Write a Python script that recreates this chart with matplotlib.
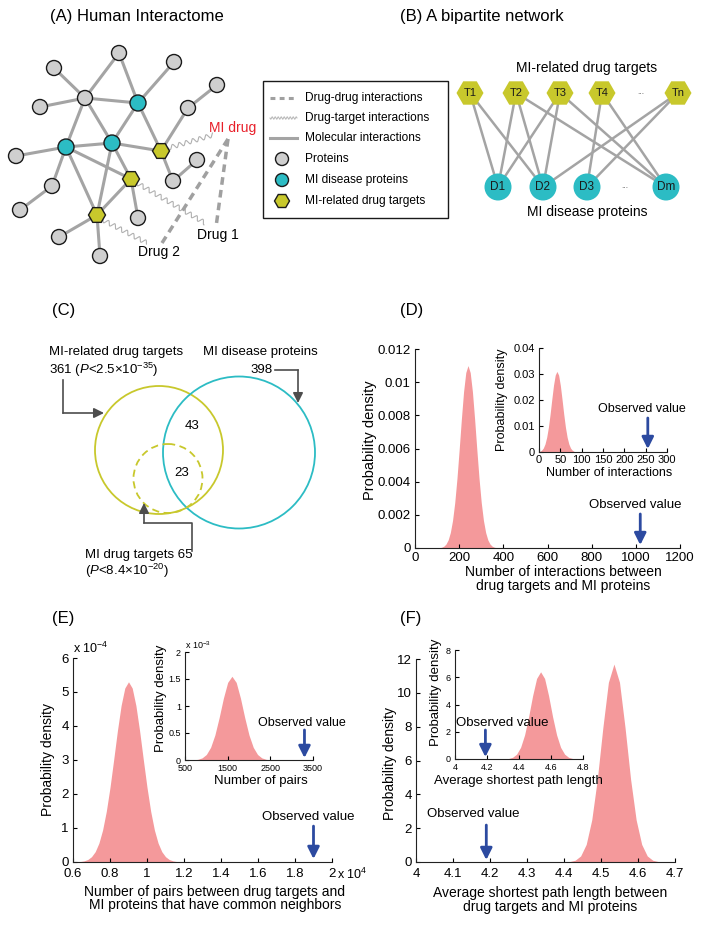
#!/usr/bin/env python3

import numpy as np
import matplotlib
matplotlib.use("Agg")
import matplotlib.pyplot as plt
from matplotlib.patches import Circle, RegularPolygon, Rectangle

plt.rcParams["font.family"] = ["Liberation Sans", "DejaVu Sans"]
plt.rcParams["mathtext.fontset"] = "custom"
plt.rcParams["mathtext.rm"] = "Liberation Sans"
plt.rcParams["mathtext.it"] = "Liberation Sans:italic"
plt.rcParams["mathtext.bf"] = "Liberation Sans:bold"

# ---------------- data ----------------
# (C) overlap counts
n_related_targets = 361
n_disease_proteins = 398
n_mi_drug_targets = 65
n_overlap_related = 43
n_overlap_mi_drug = 23
p_related = r"2.5×10$^{-35}$"
p_mi_drug = r"8.4×10$^{-20}$"

# (B) bipartite network
targets_b = ["T1", "T2", "T3", "T4", "...", "Tn"]
diseases_b = ["D1", "D2", "D3", "...", "Dm"]
edges_b = [("T1", "D1"), ("T1", "D2"), ("T2", "D1"), ("T2", "D2"), ("T2", "Dm"),
           ("T3", "D1"), ("T3", "D2"), ("T3", "Dm"), ("T4", "D3"), ("T4", "Dm"),
           ("Tn", "D2"), ("Tn", "D3")]

# (D) null distribution of interactions
inter_x = [100, 110, 120, 130, 140, 150, 160, 170, 180, 190, 200, 210, 220, 230, 240,
           250, 260, 270, 280, 290, 300, 310, 320, 330, 340, 350, 360, 370, 380]
inter_y = [0.000006, 0.000016, 0.000043, 0.000103, 0.000232, 0.000483, 0.000931,
           0.00166, 0.00274, 0.00419, 0.00593, 0.00777, 0.00943, 0.01058, 0.011,
           0.01058, 0.00943, 0.00777, 0.00593, 0.00419, 0.00274, 0.00166, 0.000931,
           0.000483, 0.000232, 0.000103, 0.000043, 0.000016, 0.000006]
inter_obs = 1020
inter_in_x = [2, 6, 10, 14, 18, 22, 26, 30, 34, 38, 42, 46, 50, 54, 58, 62, 66, 70,
              74, 78, 82]
inter_in_y = [0.00027, 0.00067, 0.0015, 0.00305, 0.00564, 0.00949, 0.01454, 0.02025,
              0.02565, 0.02957, 0.031, 0.02957, 0.02565, 0.02025, 0.01454, 0.00949,
              0.00564, 0.00305, 0.0015, 0.00067, 0.00027]
inter_in_obs = 255

# (E) null distribution of pairs (x in 1e4, y in 1e-4; inset y in 1e-3)
pairs_x = [0.62, 0.64, 0.66, 0.68, 0.70, 0.72, 0.74, 0.76, 0.78, 0.80, 0.82, 0.84,
           0.86, 0.88, 0.90, 0.92, 0.94, 0.96, 0.98, 1.00, 1.02, 1.04, 1.06, 1.08,
           1.10, 1.12, 1.14, 1.16, 1.18]
pairs_y = [0.005, 0.014, 0.033, 0.074, 0.156, 0.304, 0.555, 0.941, 1.489, 2.195,
           3.014, 3.858, 4.602, 5.116, 5.3, 5.116, 4.602, 3.858, 3.014, 2.195, 1.489,
           0.941, 0.555, 0.304, 0.156, 0.074, 0.033, 0.014, 0.005]
pairs_obs = 1.9
pairs_in_x = [700, 800, 900, 1000, 1100, 1200, 1300, 1400, 1500, 1600, 1700, 1800,
              1900, 2000, 2100, 2200, 2300, 2400, 2500]
pairs_in_y = [0.0034, 0.0122, 0.039, 0.102, 0.234, 0.462, 0.784, 1.145, 1.437, 1.55,
              1.437, 1.145, 0.784, 0.462, 0.234, 0.102, 0.039, 0.0122, 0.0034]
pairs_in_obs = 3300

# (F) null distribution of average shortest path length
path_x = [4.415, 4.43, 4.445, 4.46, 4.475, 4.49, 4.505, 4.52, 4.535, 4.55, 4.565,
          4.58, 4.595, 4.61, 4.625, 4.64, 4.655]
path_y = [0.024, 0.102, 0.358, 1.04, 2.49, 4.89, 7.94, 10.62, 11.7, 10.62, 7.94,
          4.89, 2.49, 1.04, 0.358, 0.102, 0.024]
path_obs = 4.19
path_in_x = [4.335, 4.36, 4.385, 4.41, 4.435, 4.46, 4.485, 4.51, 4.535, 4.56, 4.585,
             4.61, 4.635, 4.66, 4.685, 4.71, 4.735]
path_in_y = [0.037, 0.125, 0.355, 0.858, 1.77, 3.10, 4.64, 5.91, 6.4, 5.91, 4.64,
             3.10, 1.77, 0.858, 0.355, 0.125, 0.037]
path_in_obs = 4.19

# ---------------- style ----------------
W, H = 704, 925
GRAY_NODE = "#cfcfcf"
CYAN = "#2cbcc4"
YELLOW = "#c8c82c"
EDGE = "#a4a4a4"
PINK = "#f4999b"
BLUE = "#2c4aa0"
DARK = "#4d4d4d"

# panel A layout (pixel coords)
pos_a = {
    "a": (119, 53), "b": (54, 68), "c": (174, 62), "d": (217, 85), "e": (40, 107),
    "f": (188, 108), "hub": (85, 98), "g": (16, 156), "h": (52, 186), "i": (20, 210),
    "j": (197, 160), "k": (173, 181), "l": (138, 218), "m": (59, 237), "n": (100, 256),
    "m1": (138, 103), "m2": (112, 143), "m3": (66, 147),
    "t1": (161, 151), "t2": (131, 179), "t3": (97, 215),
}
proteins_a = ["a", "b", "c", "d", "e", "f", "hub", "g", "h", "i", "j", "k", "l", "m", "n"]
disease_a = ["m1", "m2", "m3"]
targets_a = ["t1", "t2", "t3"]
edges_a = [("a", "hub"), ("a", "m1"), ("b", "hub"), ("e", "hub"), ("hub", "m1"),
           ("hub", "m3"), ("hub", "m2"), ("c", "m1"), ("m1", "m2"), ("m1", "t1"),
           ("f", "t1"), ("d", "f"), ("m2", "t1"), ("m3", "m2"), ("m3", "g"),
           ("m3", "h"), ("h", "i"), ("m3", "t2"), ("m3", "t3"), ("m2", "t3"),
           ("m2", "t2"), ("t2", "l"), ("t2", "t3"), ("t1", "k"), ("k", "j"),
           ("t3", "m"), ("t3", "n")]


def wavy(ax, p0, p1, amp=2.2, wl=7.0, **kw):
    p0, p1 = np.asarray(p0, float), np.asarray(p1, float)
    d = p1 - p0
    L = np.hypot(*d)
    u = d / L
    nrm = np.array([-u[1], u[0]])
    s = np.linspace(0, L, int(L * 4))
    pts = p0 + np.outer(s, u) + np.outer(amp * np.sin(2 * np.pi * s / wl), nrm)
    ax.plot(pts[:, 0], pts[:, 1], **kw)


def circ(ax, xy, r, fc):
    ax.add_patch(Circle(xy, r, fc=fc, ec="#1a1a1a", lw=1.0, zorder=3))


def hexa(ax, xy, r, ec="none"):
    ax.add_patch(RegularPolygon(xy, 6, radius=r, orientation=np.pi / 6,
                                fc=YELLOW, ec=ec, lw=1.0, zorder=3))


def px_axes(left, top, right, bottom):
    return fig.add_axes([left / W, 1 - bottom / H, (right - left) / W, (bottom - top) / H])


def lab(x, y, s, **kw):
    # figure-level text in pixel coords, drawn above all axes
    kw.setdefault("ha", "center")
    kw.setdefault("va", "center")
    return fig.text(x, y, s, transform=ov.transData, **kw)


def style(ax, fs, xpad=2):
    for s in ["top", "right"]:
        ax.spines[s].set_visible(False)
    for s in ["left", "bottom"]:
        ax.spines[s].set_linewidth(0.8)
        ax.spines[s].set_color("#222222")
    ax.tick_params(direction="in", length=3, width=0.8, labelsize=fs)
    ax.tick_params(axis="x", pad=xpad)
    ax.tick_params(axis="y", pad=3)
    ax.set_facecolor("none")


def obs_arrow(ax, x, y_tip, y_tail, txt_xy, fs):
    tr = ax.get_xaxis_transform()
    ax.annotate("", xy=(x, y_tip), xytext=(x, y_tail), xycoords=tr, textcoords=tr,
                arrowprops=dict(arrowstyle="-|>,head_length=0.5,head_width=0.25",
                                color=BLUE, lw=2, shrinkA=0, shrinkB=0,
                                mutation_scale=14))
    ax.text(*txt_xy, "Observed value", transform=ax.transAxes, ha="center",
            va="center", fontsize=fs)


fig = plt.figure(figsize=(W / 100, H / 100), dpi=100)
ov = fig.add_axes([0, 0, 1, 1])
ov.set_xlim(0, W)
ov.set_ylim(H, 0)
ov.axis("off")

# panel labels
ov.text(50, 17, "(A) Human Interactome", fontsize=12, va="center")
ov.text(400, 17, "(B) A bipartite network", fontsize=12, va="center")
for t, x, y in [("(C)", 52, 310), ("(D)", 400, 310), ("(E)", 52, 619), ("(F)", 400, 619)]:
    ov.text(x, y, t, fontsize=12, va="center")

# ---------------- (A) ----------------
for u, v in edges_a:
    (x0, y0), (x1, y1) = pos_a[u], pos_a[v]
    ov.plot([x0, x1], [y0, y1], color=EDGE, lw=2.2, zorder=1, solid_capstyle="round")
for k in proteins_a:
    circ(ov, pos_a[k], 7.5, GRAY_NODE)
for k in disease_a:
    circ(ov, pos_a[k], 8, CYAN)
for k in targets_a:
    hexa(ov, pos_a[k], 8.5, ec="#1a1a1a")

wave_kw = dict(color="#b0b0b0", lw=0.8, zorder=1)
wavy(ov, (168, 148), (213, 135), **wave_kw)
wavy(ov, (137, 183), (205, 223), **wave_kw)
wavy(ov, (103, 220), (147, 243), **wave_kw)
dash_kw = dict(color="#a0a0a0", lw=2.5, dashes=(2.2, 1.5), zorder=1)
ov.plot([228, 216], [139, 227], **dash_kw)
ov.plot([228, 162], [139, 243], **dash_kw)
ov.text(209, 128, "MI drug", color="#e8202a", fontsize=10, va="center")
ov.text(197, 235, "Drug 1", fontsize=10, va="center")
ov.text(138, 252, "Drug 2", fontsize=10, va="center")

# legend box
ov.add_patch(Rectangle((263, 81), 185, 137, fc="white", ec="#1a1a1a", lw=1.0, zorder=2))
rows = [98, 118, 138, 159, 180, 201]
leg_labels = ["Drug-drug interactions", "Drug-target interactions", "Molecular interactions",
              "Proteins", "MI disease proteins", "MI-related drug targets"]
ov.plot([270, 297], [rows[0], rows[0]], color="#a0a0a0", lw=2.2, dashes=(1.6, 1.4), zorder=3)
wavy(ov, (270, rows[1]), (297, rows[1]), amp=1.2, wl=3.0, color="#b8b8b8", lw=0.7, zorder=3)
ov.plot([270, 297], [rows[2], rows[2]], color=EDGE, lw=2.2, zorder=3)
circ(ov, (282, rows[3]), 6.5, GRAY_NODE)
circ(ov, (282, rows[4]), 6.5, CYAN)
hexa(ov, (282, rows[5]), 7.5, ec="#1a1a1a")
for y, t in zip(rows, leg_labels):
    ov.text(305, y, t, fontsize=8.6, va="center", zorder=4)

# ---------------- (B) ----------------
tx = dict(zip(targets_b, [470, 516, 560, 602, 641, 678]))
dx = dict(zip(diseases_b, [498, 543, 587, 625, 666]))
ty, dy = 93, 187
for t, d in edges_b:
    ov.plot([tx[t], dx[d]], [ty, dy], color=EDGE, lw=1.8, zorder=1)
for t in targets_b:
    if t == "...":
        ov.text(tx[t], ty, "...", fontsize=6, ha="center", va="center", color="#555555")
        continue
    hexa(ov, (tx[t], ty), 13.5)
    ov.text(tx[t], ty, t, fontsize=8, ha="center", va="center", zorder=4, color="#1a1a1a")
for d in diseases_b:
    if d == "...":
        ov.text(dx[d], dy, "...", fontsize=6, ha="center", va="center", color="#555555")
        continue
    ov.add_patch(Circle((dx[d], dy), 13.5, fc=CYAN, ec="none", zorder=3))
    ov.text(dx[d], dy, d, fontsize=8.5, ha="center", va="center", zorder=4, color="#1a1a1a")
ov.text(587, 68, "MI-related drug targets", fontsize=10, ha="center", va="center")
ov.text(587, 212, "MI disease proteins", fontsize=10, ha="center", va="center")

# ---------------- (C) ----------------
ov.add_patch(Circle((159, 450), 64, fill=False, ec=YELLOW, lw=1.3))
ov.add_patch(Circle((239, 452.5), 76, fill=False, ec=CYAN, lw=1.3))
ov.add_patch(Circle((168, 478.5), 34.5, fill=False, ec=YELLOW, lw=1.3, ls=(0, (4, 2.5))))
ov.text(192, 426, str(n_overlap_related), fontsize=9.5, ha="center", va="center")
ov.text(182, 473, str(n_overlap_mi_drug), fontsize=9.5, ha="center", va="center")
ov.text(49, 352, "MI-related drug targets", fontsize=9.5, va="center")
ov.text(49, 370, f"{n_related_targets} ($\\mathit{{P}}$<{p_related})", fontsize=9.5, va="center")
ov.text(203, 352, "MI disease proteins", fontsize=9.5, va="center")
ov.text(273, 370, str(n_disease_proteins), fontsize=9.5, va="center", ha="right")
ov.text(85, 555, f"MI drug targets {n_mi_drug_targets}", fontsize=9.5, va="center")
ov.text(85, 571, f"($\\mathit{{P}}$<{p_mi_drug})", fontsize=9.5, va="center")
akw = dict(arrowstyle="-|>,head_length=0.5,head_width=0.25", color=DARK, lw=1.2,
           shrinkA=0, shrinkB=0, mutation_scale=12)
ov.plot([63, 63], [380, 413], color=DARK, lw=1.2)
ov.annotate("", xy=(104, 413), xytext=(63, 413), arrowprops=akw)
ov.plot([275, 298], [370, 370], color=DARK, lw=1.2)
ov.annotate("", xy=(298, 403), xytext=(298, 370), arrowprops=akw)
ov.plot([192, 192, 144], [551, 523, 523], color=DARK, lw=1.2)
ov.annotate("", xy=(144, 503), xytext=(144, 523), arrowprops=akw)

# ---------------- (D) ----------------
ax = px_axes(415, 349, 680, 548)
style(ax, 9.5, xpad=3)
ax.fill_between(inter_x, inter_y, color=PINK, lw=0)
ax.set_xlim(0, 1200)
ax.set_ylim(0, 0.012)
ax.set_xticks(range(0, 1201, 200))
ax.set_yticks([0, 0.002, 0.004, 0.006, 0.008, 0.01, 0.012])
ax.set_yticklabels(["0", "0.002", "0.004", "0.006", "0.008", "0.01", "0.012"])
obs_arrow(ax, inter_obs, 0.015, 0.171, (0.83, 0.216), 9.5)
lab(370, 440, "Probability density", fontsize=10.5, rotation=90)
lab(563, 572, "Number of interactions between", fontsize=10)
lab(563, 586, "drug targets and MI proteins", fontsize=10)

ax = px_axes(539, 348, 667, 452)
style(ax, 8)
ax.fill_between(inter_in_x, inter_in_y, color=PINK, lw=0)
ax.set_xlim(0, 300)
ax.set_ylim(0, 0.04)
ax.set_xticks(range(0, 301, 50))
ax.set_yticks([0, 0.01, 0.02, 0.03, 0.04])
ax.set_yticklabels(["0", "0.01", "0.02", "0.03", "0.04"])
obs_arrow(ax, inter_in_obs, 0.029, 0.327, (0.805, 0.413), 9)
lab(502, 400, "Probability density", fontsize=9, rotation=90)
lab(609, 473, "Number of interactions", fontsize=9)

# ---------------- (E) ----------------
ax = px_axes(73, 658, 332, 862)
style(ax, 9.5, xpad=4.5)
ax.fill_between(pairs_x, pairs_y, color=PINK, lw=0)
ax.set_xlim(0.6, 2.0)
ax.set_ylim(0, 6)
ax.set_xticks([0.6, 0.8, 1.0, 1.2, 1.4, 1.6, 1.8, 2.0])
ax.set_xticklabels(["0.6", "0.8", "1", "1.2", "1.4", "1.6", "1.8", "2"])
ax.set_yticks(range(0, 7))
obs_arrow(ax, pairs_obs, 0.015, 0.176, (0.907, 0.221), 9.5)
lab(73, 648, r"x 10$^{-4}$", fontsize=9, ha="left")
lab(337, 874, r"x 10$^{4}$", fontsize=9, ha="left")
lab(48, 760, "Probability density", fontsize=10, rotation=90)
lab(215, 892, "Number of pairs between drug targets and", fontsize=10)
lab(215, 905, "MI proteins that have common neighbors", fontsize=10)

ax = px_axes(185, 652, 313, 760)
style(ax, 6.5, xpad=3)
ax.fill_between(pairs_in_x, pairs_in_y, color=PINK, lw=0)
ax.set_xlim(500, 3500)
ax.set_ylim(0, 2)
ax.set_xticks([500, 1500, 2500, 3500])
ax.set_yticks([0, 0.5, 1, 1.5, 2])
ax.set_yticklabels(["0", "0.5", "1", "1.5", "2"])
obs_arrow(ax, pairs_in_obs, 0.019, 0.278, (0.914, 0.343), 9)
lab(185, 645, r"x 10$^{-3}$", fontsize=6.5, ha="left")
lab(161, 698, "Probability density", fontsize=9.5, rotation=90)
lab(261, 781, "Number of pairs", fontsize=9.5)

# ---------------- (F) ----------------
ax = px_axes(416, 659, 675, 862)
style(ax, 9.5, xpad=4.5)
ax.fill_between(path_x, path_y, color=PINK, lw=0)
ax.set_xlim(4, 4.7)
ax.set_ylim(0, 12)
ax.set_xticks([4, 4.1, 4.2, 4.3, 4.4, 4.5, 4.6, 4.7])
ax.set_xticklabels(["4", "4.1", "4.2", "4.3", "4.4", "4.5", "4.6", "4.7"])
ax.set_yticks(range(0, 13, 2))
obs_arrow(ax, path_obs, 0.01, 0.182, (0.22, 0.236), 9.5)
lab(390, 763, "Probability density", fontsize=10, rotation=90)
lab(550, 893, "Average shortest path length between", fontsize=10)
lab(550, 907, "drug targets and MI proteins", fontsize=10)

ax = px_axes(455, 650, 583, 759)
style(ax, 6.5, xpad=3)
ax.fill_between(path_in_x, path_in_y, color=PINK, lw=0)
ax.set_xlim(4, 4.8)
ax.set_ylim(0, 8)
ax.set_xticks([4, 4.2, 4.4, 4.6, 4.8])
ax.set_xticklabels(["4", "4.2", "4.4", "4.6", "4.8"])
ax.set_yticks(range(0, 9, 2))
obs_arrow(ax, path_in_obs, 0.018, 0.266, (0.367, 0.33), 9.5)
lab(436, 692, "Probability density", fontsize=9.5, rotation=90)
lab(518, 781, "Average shortest path length", fontsize=9.5)

fig.savefig("out.png", dpi=100)
